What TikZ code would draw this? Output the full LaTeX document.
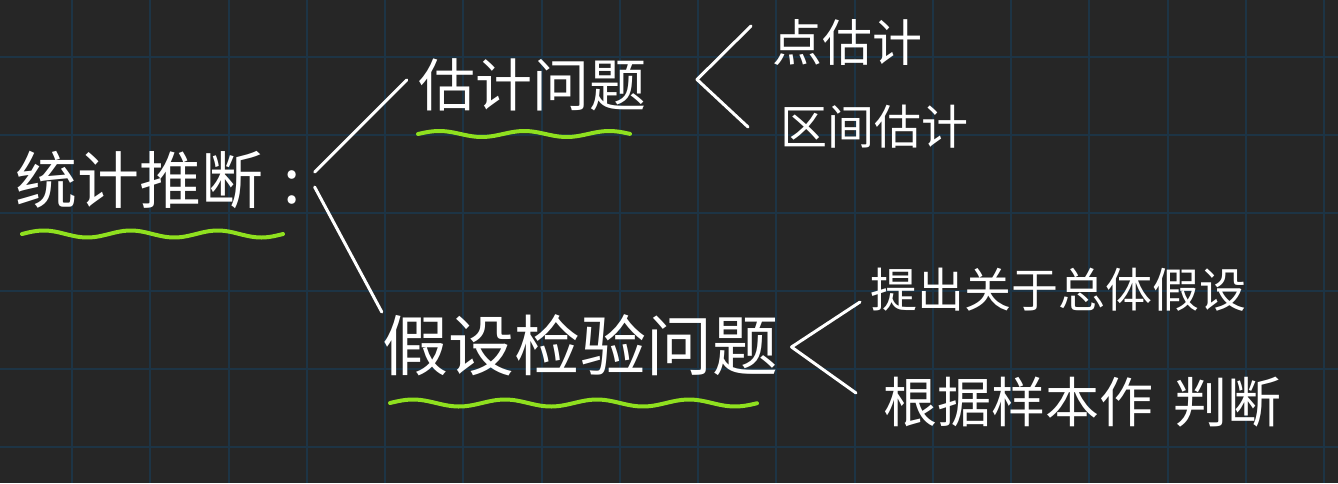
\documentclass[tikz,border=0pt]{standalone}
\usepackage{fontspec}
\newfontfamily\cjk{Noto Sans CJK SC}
\usetikzlibrary{calc}
\definecolor{bg}{HTML}{262626}
\definecolor{gridc}{HTML}{1D3445}
\definecolor{hl}{HTML}{8FE01F}
\tikzset{
  txt/.style={inner sep=0pt, text=white, font=\cjk},
  conn/.style={draw=white, line width=3pt, line cap=round, line join=round},
  wavy/.style={draw=hl, line width=4pt, line cap=round, line join=round},
  gridline/.style={draw=gridc, line width=2pt}
}
\begin{document}
\begin{tikzpicture}[x=1pt, y=-1pt]
\fill[bg] (0,0) rectangle (1338,483);
\useasboundingbox (0,0) rectangle (1338,483);
\foreach \i in {0,...,16} {
  \draw[gridline] ({72+78.25*\i},0) -- ({72+78.25*\i},483);
}
\foreach \j in {0,...,5} {
  \draw[gridline] (0,{57+78*\j}) -- (1338,{57+78*\j});
}
% nodes
\node[txt, anchor=west, font=\cjk\fontsize{62pt}{62pt}\selectfont] (root) at (15,180) {统计推断\hspace{20pt}:};
\node[txt, font=\cjk\fontsize{57pt}{57pt}\selectfont] (est) at (532,85) {估计问题};
\node[txt, font=\cjk\fontsize{66pt}{66pt}\selectfont] (hyp) at (580,345) {假设检验问题};
\node[txt, anchor=west, font=\cjk\fontsize{50pt}{50pt}\selectfont] (pt) at (772,42) {点估计};
\node[txt, anchor=west, font=\cjk\fontsize{47pt}{47pt}\selectfont] (iv) at (780,127) {区间估计};
\node[txt, anchor=west, font=\cjk\fontsize{47pt}{47pt}\selectfont] (h1) at (870,290) {提出关于总体假设};
\node[txt, anchor=west, font=\cjk\fontsize{54pt}{54pt}\selectfont] (h2) at (883,402) {根据样本作\hspace{20pt}判断};
% connectors from root
\coordinate (r0) at ($(root.east)+(14,-8)$);
\coordinate (r1) at ($(root.east)+(14,7)$);
\draw[conn] (r0) -- ($(est.west)+(-11,-5)$);
\draw[conn] (r1) -- ($(hyp.west)+(0,-33)$);
% brackets
\coordinate (b1) at ($(pt.west)!0.5!(iv.west)+(-79,-5)$);
\draw[conn] ($(pt.west)+(-21,-16)$) -- (b1) -- ($(iv.west)+(-32,0)$);
\coordinate (b2) at ($(h1.west)!0.5!(h2.west)+(-85,1)$);
\draw[conn] ($(h1.west)+(-10,12)$) -- (b2) -- ($(h2.west)+(-27,-9)$);
% underlines
\draw[wavy] plot[smooth, domain=22:283, samples=50] (\x, {234-3.5*sin((\x-22)/87*360)});
\draw[wavy] plot[smooth, domain=418:630, samples=40] (\x, {134-3*sin((\x-418)/85*360)});
\draw[wavy] plot[smooth, domain=390:757, samples=60] (\x, {403-3.5*sin((\x-390)/92*360)});
\end{tikzpicture}
\end{document}
